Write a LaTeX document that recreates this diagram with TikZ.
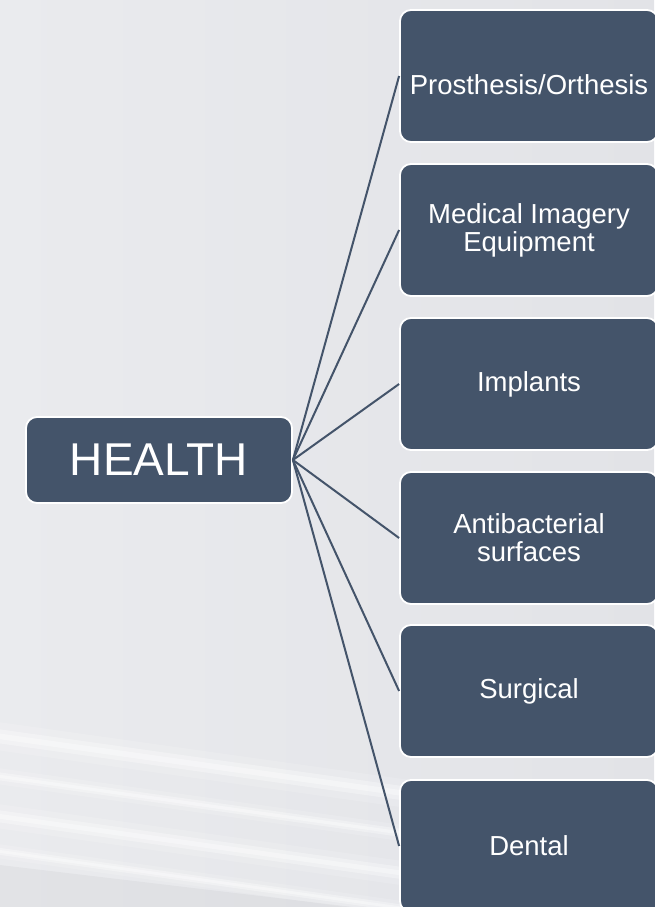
\documentclass[tikz,border=0pt]{standalone}
\usepackage{fontspec}
\setmainfont{Liberation Sans}
\definecolor{slate}{HTML}{44546A}
\definecolor{paperL}{HTML}{EAEBEE}
\definecolor{paperR}{HTML}{E2E3E7}
\def \boxWidth {258pt}
\def \boxHeight {132pt}
\tikzset{
  topic/.style={draw=white, line width=1.8pt, fill=slate, rounded corners=11pt,
    text=white, align=center, inner sep=0pt},
  leaf/.style={topic, minimum width=\boxWidth, minimum height=\boxHeight,
    font=\fontsize{27.5}{28}\selectfont},
  link/.style={draw=slate, line width=2pt},
  streak/.style={white, line cap=round}
}
\begin{document}
\begin{tikzpicture}[x=1pt, y=-1pt]
         \useasboundingbox (0, 0) rectangle (654, 907);
         % background
         \shade[left color=paperL, right color=paperR] (0, 0) rectangle (654, 907);
         \foreach \y/\w in {735/14, 775/8, 815/12, 850/7} {
            \draw[streak, opacity=0.15, line width=2*\w pt] (-10, \y) -- (430, \y+62);
            \draw[streak, opacity=0.3, line width=\w pt] (-10, \y) -- (430, \y+62);
            \draw[streak, opacity=0.35, line width=0.4*\w pt] (-10, \y) -- (430, \y+62);
         }
         \fill[black, opacity=0.03] (0, 865) -- (420, 915) -- (0, 915) -- cycle;
         % nodes
         \node[topic, minimum width=266pt, minimum height=86pt, font=\fontsize{46}{46}\selectfont] (health) at (159, 460) {HEALTH};
         \node[leaf] (prosthesis) at (529, 76) {\raisebox{-18pt}[0pt][0pt]{Prosthesis/Orthesis}};
         \node[leaf] (imagery) at (529, 230) {Medical Imagery\\Equipment};
         \node[leaf] (implants) at (529, 384) {Implants};
         \node[leaf] (antibacterial) at (529, 538) {Antibacterial\\surfaces};
         \node[leaf] (surgical) at (529, 691) {Surgical};
         \node[leaf] (dental) at (529, 846) {Dental};
         % links
         \path[link] (health.east) -- (prosthesis.west);
         \path[link] (health.east) -- (imagery.west);
         \path[link] (health.east) -- (implants.west);
         \path[link] (health.east) -- (antibacterial.west);
         \path[link] (health.east) -- (surgical.west);
         \path[link] (health.east) -- (dental.west);
      \end{tikzpicture}
\end{document}
